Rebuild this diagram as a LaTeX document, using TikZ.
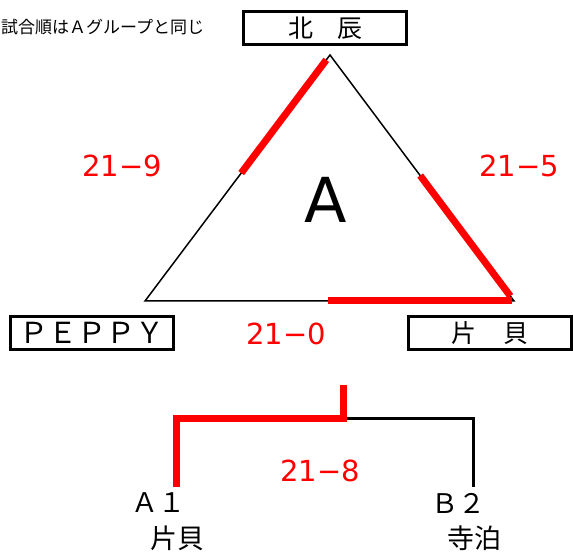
\documentclass[tikz,border=0pt]{standalone}
\usepackage{fontspec}
\setmainfont{Noto Sans CJK JP}
\newfontfamily\numfont{DejaVu Sans}
\usetikzlibrary{calc, positioning}

\begin{document}
\begin{tikzpicture}[x=1pt, y=-1pt,
  team/.style={draw, line width=3pt, minimum width=163pt, minimum height=33pt,
    inner sep=0pt, font=\fontsize{25}{25}\selectfont},
  score/.style={text=red, font=\numfont\fontsize{29}{29}\selectfont},
  win/.style={red, line width=7pt},
  entry/.style={font=\fontsize{27}{27}\selectfont}]
  \useasboundingbox (0,0) rectangle (573,553);

  \node[anchor=west, inner sep=0pt, font=\fontsize{17}{17}\selectfont] (note) at (1,27) {試合順はＡグループと同じ};

  % round robin
  \node[team] (hokushin) at (325,28) {北\hspace{24pt}辰};
  \node[team, font=\fontsize{29}{29}\selectfont] (peppy) at (92,333) {ＰＥＰＰＹ};
  \node[team] (katakai) at (490,333) {片\hspace{27pt}貝};

  \coordinate (top) at (330,55);
  \coordinate (left) at (145,301);
  \coordinate (right) at (514,301);
  \draw[line width=1.5pt] (top) -- (left) -- (right) -- cycle;
  \draw[win] ($(top)!0.02!(left)$) -- ($(top)!0.48!(left)$);
  \draw[win] ($(top)!0.49!(right)$) -- ($(top)!0.98!(right)$);
  \draw[win] ($(right)!0.005!(left)$) -- ($(right)!0.504!(left)$);

  \node[font=\numfont\fontsize{62}{62}\selectfont] (grp) at (326,200) {A};
  \node[score] (s1) at (122,166) {21−9};
  \node[score] (s2) at (519,166) {21−5};
  \node[score] (s3) at (286,334) {21−0};

  % final
  \node[entry] (a1) at (158,503) {Ａ１};
  \node[entry] (a1name) at (177,538) {片貝};
  \node[entry] (b2) at (458,503) {Ｂ２};
  \node[entry] (b2name) at (474,538) {寺泊};
  \coordinate (root) at (343,385);
  \coordinate (mid) at (343,418);
  \coordinate (a1top) at (176,487);
  \coordinate (b2top) at (473,487);
  \draw[line width=3pt] (mid) -| (b2top);
  \draw[win] (root) -- (mid) -| (a1top);
  \node[score] (s4) at (320,471) {21−8};
\end{tikzpicture}
\end{document}
